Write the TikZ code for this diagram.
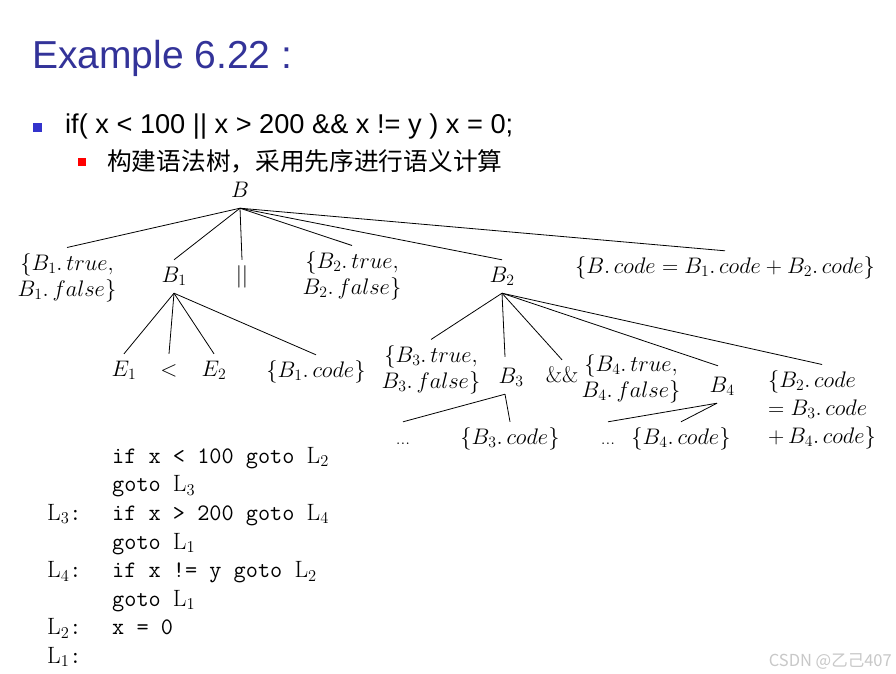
\RequirePackage{fix-cm}
\documentclass[tikz,border=0pt]{standalone}
\usepackage{fontspec}
\newfontfamily\titlefont{Liberation Sans}
\newfontfamily\cjkfont{Noto Sans CJK SC}
\definecolor{titleblue}{RGB}{51,51,153}
\definecolor{bulletblue}{RGB}{51,51,204}
\definecolor{wmgray}{RGB}{200,200,200}
\tikzset{
  tn/.style={inner xsep=0pt, inner ysep=6pt, text height=16pt, text depth=5pt,
             font=\fontsize{22.5}{26}\selectfont, anchor=base},
  tm/.style={inner xsep=0pt, inner ysep=6pt, align=center,
             font=\fontsize{22.5}{26}\selectfont, anchor=north},
  dots/.style={inner xsep=0pt, inner ysep=6pt, text height=16pt, text depth=5pt,
             font=\fontsize{19}{19}\selectfont, anchor=base},
  edge/.style={line width=0.8pt, black}
}
\begin{document}
\begin{tikzpicture}[x=1pt,y=-1pt]
\useasboundingbox (0,0) rectangle (896,674);
\fill[white] (0,0) rectangle (896,674);

% title and bullets
\node[anchor=base west, inner sep=0pt, text=titleblue,
      font=\titlefont\fontsize{39}{40}\selectfont] (title) at (32,69) {Example 6.22 :};
\fill[bulletblue] (33,123) rectangle (42,132);
\node[anchor=base west, inner sep=0pt,
      font=\titlefont\fontsize{27.2}{28}\selectfont] (stmt) at (65,133)
      {if( x < 100 || x > 200 \&\& x != y ) x = 0;};
\fill[red] (78,158) rectangle (86,166);
\node[anchor=base west, inner sep=0pt,
      font=\cjkfont\fontsize{24.7}{26}\selectfont] (cn) at (107,170)
      {构建语法树，采用先序进行语义计算};

% tree level 0/1
\node[tn] (B) at (240,197) {$B$};
\node[tm] (b1tf) at (67,247.5) {$\{B_1.\,true,$\\$B_1.\,false\}$};
\node[tn] (b1) at (174,282) {$B_1$};
\node[tn] (or) at (242,282) {$||$};
\node[tm] (b2tf) at (352,245.5) {$\{B_2.\,true,$\\$B_2.\,false\}$};
\node[tn] (b2) at (502,282) {$B_2$};
\node[tn] (bcode) at (725,273) {$\{B.\,code=B_1.\,code+B_2.\,code\}$};

% under B1
\node[tn] (e1) at (124,376) {$E_1$};
\node[tn] (lt) at (169,376) {$<$};
\node[tn] (e2) at (214,376) {$E_2$};
\node[tn] (b1c) at (316,377) {$\{B_1.\,code\}$};

% under B2
\node[tm] (b3tf) at (431,339.5) {$\{B_3.\,true,$\\$B_3.\,false\}$};
\node[tn] (b3) at (511,383) {$B_3$};
\node[tn] (and) at (562,382) {$\&\&$};
\node[tm] (b4tf) at (631,348.5) {$\{B_4.\,true,$\\$B_4.\,false\}$};
\node[tn] (b4) at (722,392) {$B_4$};
\node[inner xsep=0pt, inner ysep=6pt, align=left, anchor=north west,
      font=\fontsize{22.5}{28}\selectfont] (b2code) at (768,364.5)
      {$\{B_2.\,code$\\$=B_3.\,code$\\$+\,B_4.\,code\}$};

% under B3 / B4
\node[dots] (d1) at (403,444) {...};
\node[tn] (b3c) at (510,444) {$\{B_3.\,code\}$};
\node[dots] (d2) at (608,444) {...};
\node[tn] (b4c) at (681,444) {$\{B_4.\,code\}$};

% edges
\draw[edge] (B.south) -- (b1tf.north);
\draw[edge] (B.south) -- (b1.north);
\draw[edge] (B.south) -- (or.north);
\draw[edge] (B.south) -- (b2tf.north);
\draw[edge] (B.south) -- (b2.north);
\draw[edge] (B.south) -- (bcode.north);

\draw[edge] (b1.south) -- (e1.north);
\draw[edge] (b1.south) -- (lt.north);
\draw[edge] (b1.south) -- (e2.north);
\draw[edge] (b1.south) -- (b1c.north);

\draw[edge] (b2.south) -- (b3tf.north);
\draw[edge] (b2.south) -- ([xshift=-6pt,yshift=4pt]b3.north);
\draw[edge] (b2.south) -- (and.north);
\draw[edge] (b2.south) -- ([xshift=-4pt,yshift=4pt]b4.north);
\draw[edge] (b2.south) -- (b2code.north);

\draw[edge] ([xshift=-6pt]b3.south) -- (d1.north);
\draw[edge] ([xshift=-6pt]b3.south) -- (b3c.north);
\draw[edge] ([xshift=-5pt]b4.south) -- (d2.north);
\draw[edge] ([xshift=-5pt]b4.south) -- (b4c.north);

% three-address code
\node[anchor=north west, inner sep=0pt,
      font=\ttfamily\fontsize{23.6}{28.6}\selectfont] (code) at (47,443)
{\begin{tabular}{@{}p{65pt}@{}l@{}}
 & if x < 100 goto $\mathrm{L}_2$\\
 & goto $\mathrm{L}_3$\\
$\mathrm{L}_3$: & if x > 200 goto $\mathrm{L}_4$\\
 & goto $\mathrm{L}_1$\\
$\mathrm{L}_4$: & if x != y goto $\mathrm{L}_2$\\
 & goto $\mathrm{L}_1$\\
$\mathrm{L}_2$: & x = 0\\
$\mathrm{L}_1$: & \\
\end{tabular}};

% watermark
\node[anchor=base east, inner sep=0pt, text=wmgray,
      font=\cjkfont\fontsize{16.5}{16.5}\selectfont] (wm) at (892,666) {CSDN @乙己407};
\end{tikzpicture}
\end{document}
